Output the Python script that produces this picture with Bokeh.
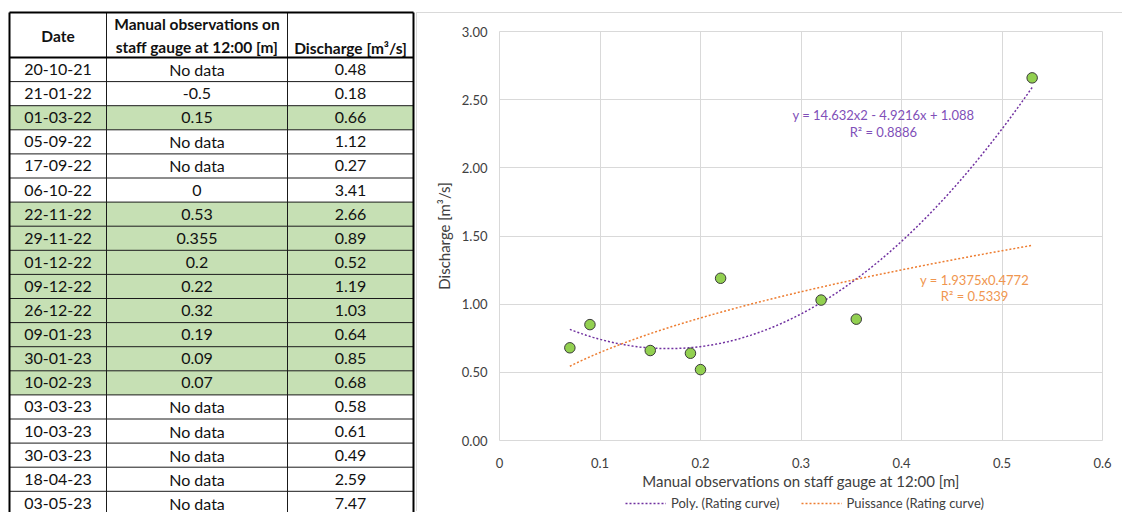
import numpy as np
from bokeh.plotting import figure
from bokeh.models import (Range1d, ColumnDataSource, Legend, LegendItem,
                          FixedTicker, NumeralTickFormatter)
from bokeh.core.properties import value
from bokeh.embed import file_html
from bokeh.resources import INLINE

# ---------------- data ----------------
dates = ["20-10-21", "21-01-22", "01-03-22", "05-09-22", "17-09-22", "06-10-22",
         "22-11-22", "29-11-22", "01-12-22", "09-12-22", "26-12-22", "09-01-23",
         "30-01-23", "10-02-23", "03-03-23", "10-03-23", "30-03-23", "18-04-23",
         "03-05-23"]
gauge = [None, -0.5, 0.15, None, None, 0, 0.53, 0.355, 0.2, 0.22, 0.32, 0.19,
         0.09, 0.07, None, None, None, None, None]
discharge = [0.48, 0.18, 0.66, 1.12, 0.27, 3.41, 2.66, 0.89, 0.52, 1.19, 1.03,
             0.64, 0.85, 0.68, 0.58, 0.61, 0.49, 2.59, 7.47]
header_date = "Date"
header_gauge = ["Manual observations on", "staff gauge at 12:00 [m]"]
header_q = "Discharge [m³/s]"

poly_coef = [14.632, -4.9216, 1.088]
poly_r2 = 0.8886
pow_a, pow_b = 1.9375, 0.4772
pow_r2 = 0.5339

x_title = "Manual observations on staff gauge at 12:00 [m]"
y_title = "Discharge [m³/s]"
legend_labels = ["Poly. (Rating curve)", "Puissance (Rating curve)"]
y_ticks = [0, 0.5, 1.0, 1.5, 2.0, 2.5, 3.0]
x_ticks = [0, 0.1, 0.2, 0.3, 0.4, 0.5, 0.6]

FONT = value("Lato")
POLY_COLOR, POW_COLOR = "#7030A0", "#ED7D31"

# ---------------- table figure ----------------
TW, TH = 416, 512
t = figure(width=TW, height=TH, x_range=Range1d(0, TW), y_range=Range1d(TH, 0),
           output_backend="svg", toolbar_location=None,
           x_axis_location=None, y_axis_location=None, min_border=0,
           styles={"position": "absolute", "left": "0px", "top": "0px"})
t.grid.visible = False
t.outline_line_color = None
t.background_fill_color = "white"
t.border_fill_color = "white"

XL, X1, X2, XR = 9, 106, 287, 413
YT, YH = 12, 57
RH = 24.1
n = len(dates)
row_top = [YH + k * RH for k in range(n)]
row_bot = [YH + (k + 1) * RH for k in range(n)]
row_mid = [YH + (k + 0.5) * RH for k in range(n)]
hl = [g is not None and g > 0 for g in gauge]

t.quad(left=[XL] * sum(hl), right=[XR] * sum(hl),
       top=[row_top[k] for k in range(n) if hl[k]],
       bottom=[row_bot[k] for k in range(n) if hl[k]],
       fill_color="#C6E0B4", line_color=None)

t.segment(x0=[XL] * n, x1=[XR] * n, y0=row_bot, y1=row_bot,
          line_color="#1a1a1a", line_width=1)
t.segment(x0=[X1, X2], x1=[X1, X2], y0=[YT, YT], y1=[TH, TH],
          line_color="#1a1a1a", line_width=1)
t.segment(x0=[XL, XL], x1=[XR, XR], y0=[YT, YH], y1=[YT, YH],
          line_color="#000000", line_width=2)
t.segment(x0=[XL, XR], x1=[XL, XR], y0=[YT, YT], y1=[TH, TH],
          line_color="#000000", line_width=2)

gauge_txt = ["No data" if g is None else f"{g:g}" for g in gauge]
q_txt = [f"{q:.2f}" for q in discharge]
cx = [(XL + X1) / 2, (X1 + X2) / 2, (X2 + XR) / 2]
tsrc = ColumnDataSource(dict(
    x=[cx[0]] * n + [cx[1]] * n + [cx[2]] * n,
    y=row_mid * 3,
    text=dates + gauge_txt + q_txt))
t.text(x="x", y="y", text="text", source=tsrc, text_align="center",
       text_baseline="middle", text_font=FONT, text_font_size="16px",
       text_color="#111111")
t.text(x=[cx[0], cx[1], cx[1], cx[2]], y=[35, 23, 46, 47],
       text=[header_date, header_gauge[0], header_gauge[1], header_q],
       text_align="center", text_baseline="middle", text_font=FONT,
       text_font_size="15.5px", text_font_style="bold", text_color="#111111")

# ---------------- chart figure ----------------
CL, CT = 416, 12
CW = 1123 - CL - 1
CH = 512 - CT - 1
p = figure(width=CW, height=CH, x_range=Range1d(0, 0.6), y_range=Range1d(0, 3),
           output_backend="svg", toolbar_location=None,
           min_border_left=499 - (CL + 1), min_border_right=(CL + 1 + CW) - 1102,
           min_border_top=31 - (CT + 1), min_border_bottom=(CT + 1 + CH) - 440,
           styles={"position": "absolute", "left": f"{CL}px", "top": f"{CT}px",
                   "border-left": "1px solid #D9D9D9",
                   "border-top": "1px solid #D9D9D9"})
p.outline_line_color = "#D9D9D9"
p.background_fill_color = "white"
p.border_fill_color = "white"
p.xgrid.ticker = FixedTicker(ticks=x_ticks)
p.ygrid.ticker = FixedTicker(ticks=y_ticks)
p.grid.grid_line_color = "#D9D9D9"
p.xaxis.ticker = FixedTicker(ticks=x_ticks)
p.yaxis.ticker = FixedTicker(ticks=y_ticks)
p.xaxis.formatter = NumeralTickFormatter(format="0.[0]")
p.yaxis.formatter = NumeralTickFormatter(format="0.00")
for ax in (p.xaxis[0], p.yaxis[0]):
    ax.major_tick_line_color = None
    ax.minor_tick_line_color = None
    ax.axis_line_color = None
    ax.major_label_text_font = "Lato"
    ax.major_label_text_font_size = "13px"
    ax.major_label_text_color = "#404040"
    ax.axis_label_text_font = "Lato"
    ax.axis_label_text_font_size = "15px"
    ax.axis_label_text_font_style = "normal"
    ax.axis_label_text_color = "#404040"
p.xaxis.axis_label = x_title
p.yaxis.axis_label = y_title
p.xaxis.major_label_standoff = 11
p.xaxis.axis_label_standoff = 1
p.yaxis.major_label_standoff = 6
p.yaxis.axis_label_standoff = 6

px = [g for g, h in zip(gauge, hl) if h]
py = [q for q, h in zip(discharge, hl) if h]
xs = np.linspace(min(px), max(px), 200)
poly_y = np.polyval(poly_coef, xs)
pow_y = pow_a * xs ** pow_b

p.line(xs, poly_y, line_color=POLY_COLOR, line_width=1.5, line_dash="2 2")
p.line(xs, pow_y, line_color=POW_COLOR, line_width=1.5, line_dash="2 2")
p.scatter(px, py, size=10.5, fill_color="#92D050", line_color="#3a3a3a", line_width=1)

p.text(x=[0.382, 0.382], y=[2.39, 2.265],
       text=[f"y = {poly_coef[0]}x2 - {abs(poly_coef[1])}x + {poly_coef[2]}",
             f"R² = {poly_r2}"],
       text_align="center", text_baseline="middle", text_font=FONT,
       text_font_size="13px", text_color="#7F4FB8")
p.text(x=[0.4727, 0.4727], y=[1.178, 1.058],
       text=[f"y = {pow_a}x{pow_b}", f"R² = {pow_r2}"],
       text_align="center", text_baseline="middle", text_font=FONT,
       text_font_size="13px", text_color="#F0964F")

# ---------------- legend strip (below the chart's axis title) ----------------
LL, LT, LWd, LHt = 620, 494, 420, 18
lg = figure(width=LWd, height=LHt, x_range=Range1d(0, 1), y_range=Range1d(0, 1),
            output_backend="svg", toolbar_location=None,
            x_axis_location=None, y_axis_location=None, min_border=0,
            styles={"position": "absolute", "left": f"{LL}px", "top": f"{LT}px"})
lg.grid.visible = False
lg.outline_line_color = None
lg.background_fill_color = None
lg.border_fill_color = None
# key renderers for the legend samples (their points lie outside the strip's range)
k_poly = lg.line(x=[-2, -1], y=[-2, -1], line_color=POLY_COLOR, line_width=1.5,
                 line_dash="2 2")
k_pow = lg.line(x=[-2, -1], y=[-2, -1], line_color=POW_COLOR, line_width=1.5,
                line_dash="2 2")
legend = Legend(items=[LegendItem(label=legend_labels[0], renderers=[k_poly]),
                       LegendItem(label=legend_labels[1], renderers=[k_pow])],
                location=(5, 1), orientation="horizontal",
                border_line_color=None, background_fill_alpha=0,
                label_text_font="Lato", label_text_font_size="13px",
                label_text_color="#404040", glyph_width=41, glyph_height=16,
                label_height=16, label_standoff=5, spacing=21,
                padding=0, margin=0)
lg.add_layout(legend, "center")

open("out.html", "w").write(file_html([t, p, lg], INLINE))
